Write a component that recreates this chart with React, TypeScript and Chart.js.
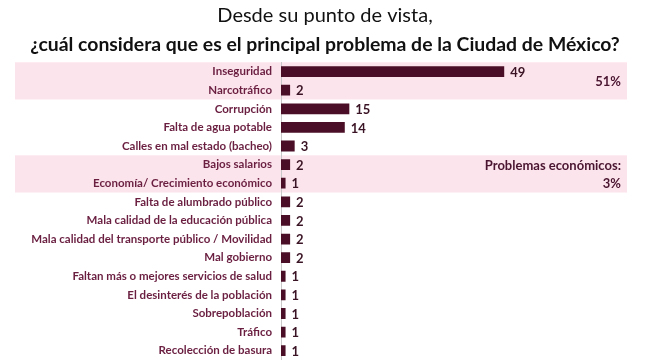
import React, { useEffect, useRef } from "react";
import { Chart, registerables } from "chart.js";

Chart.register(...registerables);

const categories: string[] = [
  "Inseguridad",
  "Narcotráfico",
  "Corrupción",
  "Falta de agua potable",
  "Calles en mal estado (bacheo)",
  "Bajos salarios",
  "Economía/ Crecimiento económico",
  "Falta de alumbrado público",
  "Mala calidad de la educación pública",
  "Mala calidad del transporte público / Movilidad",
  "Mal gobierno",
  "Faltan más o mejores servicios de salud",
  "El desinterés de la población",
  "Sobrepoblación",
  "Tráfico",
  "Recolección de basura",
];
const values: number[] = [49, 2, 15, 14, 3, 2, 1, 2, 2, 2, 2, 1, 1, 1, 1, 1];

const titleLine1 = "Desde su punto de vista,";
const titleLine2 = "¿cuál considera que es el principal problema de la Ciudad de México?";

// groups highlighted with a pink band: [first index, last index, note lines]
const groupBands: { from: number; to: number; note: string[] }[] = [
  { from: 0, to: 1, note: ["51%"] },
  { from: 5, to: 6, note: ["Problemas económicos:", "3%"] },
];

const FONT = "Lato, 'Open Sans', sans-serif";
const BAR = "#4a0f26";
const LABEL = "#6a1f40";
const VALUE = "#3a1424";
const BAND = "#fce4ec";
const RIGHT_INSET = 23;

export default function App() {
  const ref = useRef<HTMLCanvasElement | null>(null);

  useEffect(() => {
    document.body.style.margin = "0";
    const canvas = ref.current;
    if (!canvas) return;

    const bandPlugin = {
      id: "bands",
      beforeDraw(chart: any) {
        const { ctx } = chart;
        const y = chart.scales.y;
        const half = (y.getPixelForValue(1) - y.getPixelForValue(0)) / 2;
        const right = chart.chartArea.right - RIGHT_INSET;
        ctx.save();
        ctx.fillStyle = BAND;
        groupBands.forEach((g) => {
          const top = y.getPixelForValue(g.from) - half;
          const bottom = y.getPixelForValue(g.to) + half;
          ctx.fillRect(15, top, right - 15, bottom - top);
        });
        ctx.restore();
      },
      afterDatasetsDraw(chart: any) {
        const { ctx } = chart;
        const y = chart.scales.y;
        const meta = chart.getDatasetMeta(0);
        const right = chart.chartArea.right - RIGHT_INSET;
        ctx.save();
        ctx.font = `bold 13px ${FONT}`;
        ctx.fillStyle = VALUE;
        ctx.textBaseline = "middle";
        ctx.textAlign = "left";
        meta.data.forEach((bar: any, i: number) => {
          ctx.fillText(String(values[i]), bar.x + 6, bar.y + 1);
        });
        ctx.textAlign = "right";
        ctx.fillStyle = "#4a1530";
        groupBands.forEach((g) => {
          const top = y.getPixelForValue(g.from);
          const bottom = y.getPixelForValue(g.to);
          const n = g.note.length;
          const mid = (top + bottom) / 2;
          const step = n > 1 ? (bottom - top) / (n - 1) : 0;
          g.note.forEach((line, k) => {
            const yy = n > 1 ? top + step * k : mid;
            ctx.fillText(line, right - 6, yy + 1);
          });
        });
        ctx.restore();
      },
    };

    const chart = new Chart(canvas, {
      type: "bar",
      data: {
        labels: categories,
        datasets: [
          {
            data: values,
            backgroundColor: BAR,
            categoryPercentage: 1,
            barPercentage: 0.58,
          },
        ],
      },
      options: {
        indexAxis: "y",
        animation: false,
        responsive: false,
        maintainAspectRatio: false,
        layout: { padding: 0 },
        plugins: {
          legend: { display: false },
          tooltip: { enabled: false },
          title: {
            display: true,
            text: titleLine1,
            color: "#111",
            font: { family: FONT, size: 20, weight: "normal", lineHeight: 1.2 },
            padding: { top: 4, bottom: 2 },
          },
          subtitle: {
            display: true,
            text: titleLine2,
            color: "#111",
            font: { family: FONT, size: 19.4, weight: "bold", lineHeight: 1.2 },
            padding: { top: 3, bottom: 6 },
          },
        },
        scales: {
          x: {
            display: false,
            min: 0,
            max: 81,
          },
          y: {
            afterFit(scale: any) {
              scale.width = 281;
              scale.paddingTop = 0;
              scale.paddingBottom = 0;
            },
            grid: { display: false, drawTicks: false },
            border: { display: true, color: "#c8c8c8", width: 1 },
            ticks: {
              color: LABEL,
              padding: 9,
              autoSkip: false,
              font: { family: FONT, size: 11.5, weight: "bold" },
            },
          },
        },
      },
      plugins: [bandPlugin],
    } as any);

    return () => chart.destroy();
  }, []);

  return <canvas ref={ref} width={650} height={360} style={{ display: "block" }} />;
}
